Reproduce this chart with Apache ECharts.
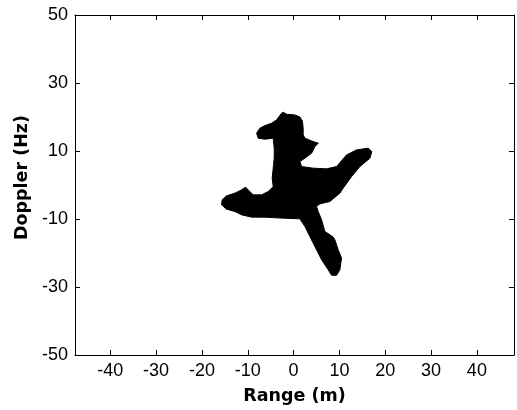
<!DOCTYPE html>
<html>
<head>
<meta charset="utf-8">
<script src="https://cdn.jsdelivr.net/npm/echarts@6/dist/echarts.min.js"></script>
<style>
html,body{margin:0;padding:0;background:#fff;}
#chart{width:517px;height:410px;}
</style>
</head>
<body>
<div id="chart"></div>
<script>
// Outline of the black target region (Range in m, Doppler in Hz)
var outlineRange = [-2.27,-1.53,0.28,1.37,1.92,2.09,2.09,2.47,4.28,5.41,4.65,3.93,2.47,1.37,1.75,4.28,7.20,9.38,11.56,13.75,16.28,17.08,16.65,14.47,12.66,10.82,10.10,7.92,5.74,5.02,5.37,6.11,6.83,7.92,8.64,9.01,9.73,10.47,10.10,9.38,8.29,7.55,6.11,4.65,3.56,2.47,1.37,-2.62,-6.26,-9.16,-11.35,-12.81,-14.62,-15.71,-15.58,-14.62,-12.81,-11.35,-10.47,-9.91,-8.82,-6.98,-5.54,-4.45,-4.67,-4.45,-4.23,-4.23,-4.45,-6.26,-7.72,-8.07,-7.35,-6.26,-4.80,-3.71,-2.62];
var outlineDoppler = [21.41,20.82,20.61,20.02,18.85,16.79,14.74,13.77,12.77,12.30,11.30,9.36,7.89,6.89,5.42,4.95,4.75,5.42,8.86,10.33,10.83,9.83,7.89,5.42,2.48,-0.93,-2.39,-4.86,-5.54,-6.33,-7.80,-10.24,-13.68,-14.64,-15.32,-16.12,-19.06,-21.50,-24.93,-26.55,-26.55,-24.93,-21.99,-18.09,-15.15,-12.21,-9.95,-9.74,-9.45,-9.45,-8.77,-7.80,-7.10,-5.83,-4.36,-3.19,-2.39,-1.43,-0.63,-1.43,-2.90,-2.90,-1.92,-0.46,2.01,4.95,7.89,10.83,13.77,13.47,13.77,15.24,16.71,17.47,18.18,19.15,21.11];
var rangeTicks = [-40,-30,-20,-10,0,10,20,30,40];
var dopplerTicks = [-50,-30,-10,10,30,50];
var rangeMin = -47.7, rangeMax = 48.1;
var dopplerMin = -50, dopplerMax = 50;

var pts = outlineRange.map(function(r,i){ return [r, outlineDoppler[i]]; });

var chart = echarts.init(document.getElementById('chart'), null, {renderer:'canvas'});
var tickFont = {fontFamily:'Liberation Sans, Arial, sans-serif', fontSize:18, color:'#000'};
var nameFont = {fontFamily:'DejaVu Sans, sans-serif', fontSize:17.5, fontWeight:'bold', color:'#000'};
var axLine = {show:true, onZero:false, lineStyle:{color:'#000', width:1}};

chart.setOption({
  animation:false,
  backgroundColor:'#fff',
  grid:{left:75, right:3, top:15, bottom:55, containLabel:false},
  xAxis:[{
    type:'value', min:rangeMin, max:rangeMax, position:'bottom',
    axisLine:axLine,
    axisTick:{show:true, inside:true, length:5, lineStyle:{color:'#000'}, customValues:rangeTicks},
    axisLabel:Object.assign({margin:7, customValues:rangeTicks}, tickFont),
    splitLine:{show:false},
    name:'Range (m)', nameLocation:'middle', nameGap:32, nameTextStyle:nameFont
  },{
    type:'value', min:rangeMin, max:rangeMax, position:'top',
    axisLine:axLine,
    axisTick:{show:true, inside:true, length:5, lineStyle:{color:'#000'}, customValues:rangeTicks},
    axisLabel:{show:false, customValues:rangeTicks},
    splitLine:{show:false}
  }],
  yAxis:[{
    type:'value', min:dopplerMin, max:dopplerMax, position:'left',
    axisLine:axLine,
    axisTick:{show:true, inside:true, length:5, lineStyle:{color:'#000'}, customValues:dopplerTicks},
    axisLabel:Object.assign({margin:7, customValues:dopplerTicks}, tickFont),
    splitLine:{show:false},
    name:'Doppler (Hz)', nameLocation:'middle', nameGap:43,
    nameTextStyle:Object.assign({padding:[0,0,0,15]}, nameFont)
  },{
    type:'value', min:dopplerMin, max:dopplerMax, position:'right',
    axisLine:axLine,
    axisTick:{show:true, inside:true, length:5, lineStyle:{color:'#000'}, customValues:dopplerTicks},
    axisLabel:{show:false, customValues:dopplerTicks},
    splitLine:{show:false}
  }],
  series:[{
    type:'custom',
    xAxisIndex:0, yAxisIndex:0,
    data:[[0,0]],
    renderItem:function(params, api){
      var p = pts.map(function(d){ return api.coord(d); });
      return {type:'polygon', shape:{points:p}, style:{fill:'#000', stroke:'#000', lineWidth:1}};
    },
    silent:true
  }]
});
</script>
</body>
</html>
